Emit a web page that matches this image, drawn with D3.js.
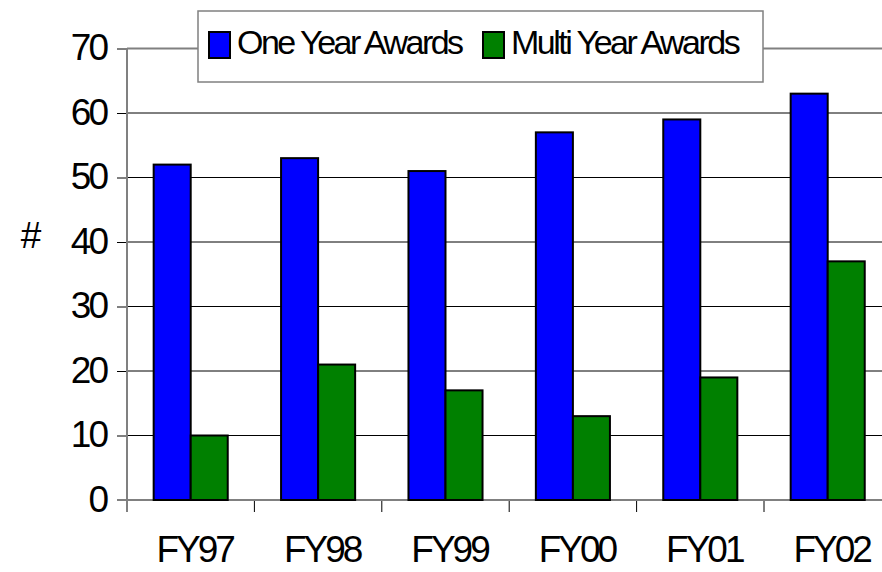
<!DOCTYPE html>
<html>
<head>
<meta charset="utf-8">
<script src="https://cdn.jsdelivr.net/npm/d3@7"></script>
<style>
  body { margin: 0; background: #fff; }
  text { font-family: "Liberation Sans", Arial, sans-serif; fill: #000; }
</style>
</head>
<body>
<svg id="chart"></svg>
<script>
// Chart data
const categories = ['FY97', 'FY98', 'FY99', 'FY00', 'FY01', 'FY02'];
const seriesNames = ['One Year Awards', 'Multi Year Awards'];
const oneYear = [52, 53, 51, 57, 59, 63];
const multiYear = [10, 21, 17, 13, 19, 37];
const yTicks = [0, 10, 20, 30, 40, 50, 60, 70];
const colors = ['#0000ff', '#008000'];

// Dimensions
const W = 882, H = 572;
const plot = { left: 127, top: 48.5, bottom: 500, step: 127.4 };

const svg = d3.select('#chart')
    .attr('width', W)
    .attr('height', H);

// Scales
const xScale = d3.scaleBand()
    .domain(categories)
    .range([plot.left, plot.left + plot.step * categories.length])
    .paddingInner(0)
    .paddingOuter(0);

const xInner = d3.scaleBand()
    .domain(seriesNames)
    .range([0, xScale.bandwidth()])
    .paddingInner(0)
    .paddingOuter(0.72);

const yScale = d3.scaleLinear()
    .domain([0, 70])
    .range([plot.bottom, plot.top]);

// Gridlines
svg.append('g')
    .selectAll('line')
    .data(yTicks.filter(d => d > 0))
    .join('line')
    .attr('x1', plot.left)
    .attr('x2', W)
    .attr('y1', d => yScale(d))
    .attr('y2', d => yScale(d))
    .attr('stroke', d => d === 70 ? '#808080' : '#000')
    .attr('stroke-width', d => d === 70 ? 2 : 1);

// Y axis
const yAxis = svg.append('g')
    .attr('transform', `translate(${plot.left},0)`)
    .call(d3.axisLeft(yScale).tickValues(yTicks).tickSize(10).tickPadding(14));
yAxis.select('.domain').remove();
yAxis.selectAll('.tick line').attr('stroke', '#000').attr('stroke-width', 1);
yAxis.selectAll('.tick text')
    .attr('dy', null)
    .attr('y', 11)
    .attr('x', -21)
    .style('font-size', '37px')
    .style('letter-spacing', '-3px')
    .style('font-family', '"Liberation Sans", Arial, sans-serif');

// X axis
const xAxis = svg.append('g')
    .attr('transform', `translate(0,${plot.bottom})`)
    .call(d3.axisBottom(xScale).tickSize(0).tickPadding(0));
xAxis.select('.domain').remove();
xAxis.selectAll('.tick text')
    .attr('dy', null)
    .attr('y', 62)
    .attr('x', 4)
    .style('font-size', '37px')
    .style('letter-spacing', '-3px')
    .style('font-family', '"Liberation Sans", Arial, sans-serif');

// Category tick marks at band edges
svg.append('g')
    .selectAll('line')
    .data(categories)
    .join('line')
    .attr('x1', d => xScale(d))
    .attr('x2', d => xScale(d))
    .attr('y1', plot.bottom)
    .attr('y2', plot.bottom + 12)
    .attr('stroke', '#000')
    .attr('stroke-width', 1);

// Axis lines
svg.append('line')
    .attr('x1', plot.left).attr('x2', plot.left)
    .attr('y1', plot.top).attr('y2', plot.bottom + 12)
    .attr('stroke', '#808080').attr('stroke-width', 2);
svg.append('line')
    .attr('x1', plot.left - 10).attr('x2', W)
    .attr('y1', plot.bottom).attr('y2', plot.bottom)
    .attr('stroke', '#808080').attr('stroke-width', 2);

// Bars
const rows = categories.map((c, i) => ({ cat: c, values: [oneYear[i], multiYear[i]] }));
svg.append('g')
    .selectAll('g')
    .data(rows)
    .join('g')
    .attr('transform', d => `translate(${xScale(d.cat)},0)`)
    .selectAll('rect')
    .data(d => d.values.map((v, j) => ({ key: seriesNames[j], value: v, j })))
    .join('rect')
    .attr('x', d => xInner(d.key))
    .attr('y', d => yScale(d.value))
    .attr('width', xInner.bandwidth())
    .attr('height', d => plot.bottom - yScale(d.value))
    .attr('fill', d => colors[d.j])
    .attr('stroke', '#000')
    .attr('stroke-width', 2);

// Y axis title
svg.append('text')
    .attr('x', 31)
    .attr('y', 248)
    .attr('text-anchor', 'middle')
    .style('font-size', '37px')
    .text('#');

// Legend
const legend = svg.append('g');
legend.append('rect')
    .attr('x', 198).attr('y', 11)
    .attr('width', 565).attr('height', 71)
    .attr('fill', '#fff')
    .attr('stroke', '#808080')
    .attr('stroke-width', 1.5);

const legendX = [209, 483];
seriesNames.forEach((name, i) => {
    legend.append('rect')
        .attr('x', legendX[i]).attr('y', 32)
        .attr('width', 21).attr('height', 26)
        .attr('fill', colors[i])
        .attr('stroke', '#000')
        .attr('stroke-width', 2);
    legend.append('text')
        .attr('x', legendX[i] + 28)
        .attr('y', 54)
        .style('font-size', '34px')
        .style('letter-spacing', '-2.5px')
        .text(name);
});
</script>
</body>
</html>
